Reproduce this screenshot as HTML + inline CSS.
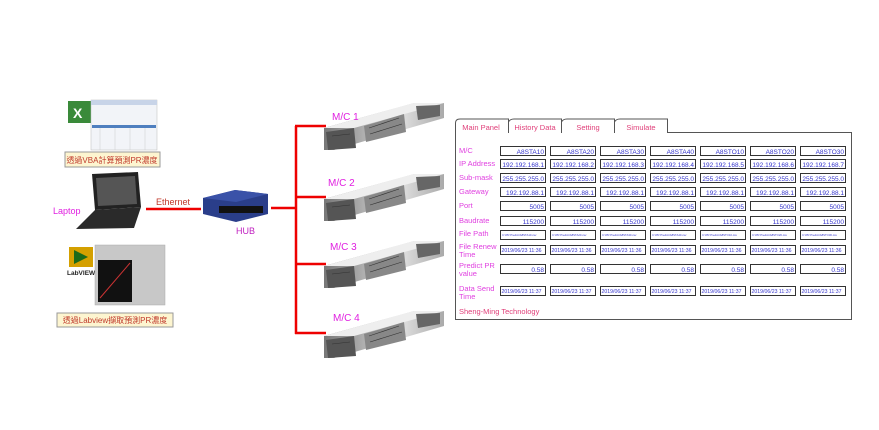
<!DOCTYPE html>
<html><head><meta charset="utf-8"><style>
body{margin:0;background:#fff;}
svg{display:block;font-family:"Liberation Sans","Noto Sans CJK TC",sans-serif;}
</style></head><body>
<svg width="879" height="430" viewBox="0 0 879 430" xmlns="http://www.w3.org/2000/svg">
<defs>
<linearGradient id="mg" x1="0" y1="0" x2="1" y2="0"><stop offset="0" stop-color="#777"/><stop offset="0.4" stop-color="#bbb"/><stop offset="0.6" stop-color="#e6e6e6"/><stop offset="1" stop-color="#aaa"/></linearGradient>
<g id="mach">
<polygon points="0,22 90,-3 120,-3 120,12 10,44 0,44" fill="url(#mg)"/>
<polygon points="0,22 90,-3 120,-3 30,22" fill="#eee"/>
<polygon points="2,26 30,22 32,42 4,44" fill="#555"/>
<polygon points="40,20 80,8 82,26 42,36" fill="#888"/>
<g stroke="#333" stroke-width="0.6"><line x1="45" y1="22" x2="75" y2="12"/><line x1="46" y1="28" x2="78" y2="18"/><line x1="8" y1="30" x2="26" y2="28"/></g>
<polygon points="92,0 116,-1 116,10 94,14" fill="#666"/>
</g>
</defs>
<!-- Excel -->
<rect x="68" y="101" width="24" height="22" fill="#3a8a3a"/>
<text x="73" y="118" font-size="14" font-weight="bold" fill="#fff">X</text>
<rect x="91" y="100" width="66" height="50" fill="#f2f4f8" stroke="#bbb" stroke-width="0.5"/>
<rect x="91" y="100" width="66" height="5" fill="#c8d4e8"/>
<rect x="92" y="125" width="64" height="3" fill="#4f7fbf"/>
<g stroke="#ccc" stroke-width="0.5"><line x1="100" y1="128" x2="100" y2="150"/><line x1="115" y1="128" x2="115" y2="150"/><line x1="130" y1="128" x2="130" y2="150"/><line x1="145" y1="128" x2="145" y2="150"/></g>
<rect x="65" y="152" width="95" height="15" fill="#fdf5d0" stroke="#999" stroke-width="1"/>
<text x="112" y="163" font-size="8" fill="#c0392b" text-anchor="middle">透過VBA計算預測PR濃度</text>
<!-- Laptop -->
<polygon points="92,174 138,172 141,207 95,210" fill="#222"/>
<polygon points="96,178 135,176 137,204 98,206" fill="#555"/>
<polygon points="95,210 141,207 134,228 76,229" fill="#2a2a2a"/>
<text x="53" y="214" font-size="9" fill="#e020e0">Laptop</text>
<!-- LabVIEW -->
<rect x="69" y="247" width="24" height="20" fill="#d4a000"/>
<polygon points="74,250 74,264 88,257" fill="#1a6a1a"/>
<text x="67" y="275" font-size="6.5" font-weight="bold" fill="#222">LabVIEW</text>
<rect x="95" y="245" width="70" height="60" fill="#c8c8c8" stroke="#aaa" stroke-width="0.5"/>
<rect x="98" y="260" width="34" height="42" fill="#111"/>
<line x1="100" y1="298" x2="130" y2="263" stroke="#c33" stroke-width="1"/>
<rect x="57" y="313" width="116" height="14" fill="#fdf5d0" stroke="#999" stroke-width="1"/>
<text x="115" y="323" font-size="8" fill="#c0392b" text-anchor="middle">透過Labview擷取預測PR濃度</text>
<!-- Ethernet -->
<line x1="146" y1="209" x2="201" y2="209" stroke="#e00" stroke-width="2.5"/>
<text x="156" y="205" font-size="9" fill="#c0392b">Ethernet</text>
<!-- HUB -->
<polygon points="203,198 235,190 268,194 268,214 236,222 203,214" fill="#2a3e8a"/>
<polygon points="203,198 235,190 268,194 236,202" fill="#3a52a8"/>
<rect x="219" y="206" width="44" height="7" fill="#111"/>
<text x="236" y="234" font-size="9" fill="#c020c0">HUB</text>
<!-- red network -->
<g stroke="#e00" stroke-width="2.5" fill="none">
<line x1="271" y1="208" x2="296" y2="208"/>
<line x1="296" y1="126" x2="296" y2="334"/>
<line x1="295" y1="126" x2="326" y2="126"/>
<line x1="295" y1="197" x2="326" y2="197"/>
<line x1="295" y1="264" x2="326" y2="264"/>
<line x1="295" y1="333" x2="326" y2="333"/>
</g>
<use href="#mach" x="324" y="106"/>
<use href="#mach" x="324" y="177"/>
<use href="#mach" x="324" y="244"/>
<use href="#mach" x="324" y="314"/>
<g font-size="10" fill="#e020e0">
<text x="332" y="120">M/C 1</text><text x="328" y="186">M/C 2</text><text x="330" y="250">M/C 3</text><text x="333" y="321">M/C 4</text>
</g>
<!-- Panel -->
<g stroke="#555" stroke-width="1" fill="#fff">
<rect x="455.5" y="132.5" width="396" height="187"/>
<path d="M455.5,133 V123 Q455.5,119 460,119 H508.5 V133"/>
<path d="M508.5,133 V122 Q510,119 514,119 H561.5 V133"/>
<path d="M561.5,133 V122 Q563,119 567,119 H614.5 V133"/>
<path d="M614.5,133 V122 Q616,119 620,119 H667.5 V133"/>
</g>
<line x1="456" y1="132.5" x2="508" y2="132.5" stroke="#fff" stroke-width="1.5"/>
<g font-size="7.5" fill="#e0407a" text-anchor="middle">
<text x="481" y="130">Main Panel</text><text x="535" y="130">History Data</text><text x="588" y="130">Setting</text><text x="641" y="130">Simulate</text>
</g>
<g font-size="7.5" fill="#e040e0">
<text x="459" y="153">M/C</text><text x="459" y="166">IP Address</text><text x="459" y="180">Sub-mask</text><text x="459" y="194">Gateway</text><text x="459" y="208">Port</text><text x="459" y="223">Baudrate</text><text x="459" y="236">File Path</text>
<text x="459" y="249">File Renew</text><text x="459" y="257">Time</text>
<text x="459" y="268">Predict PR</text><text x="459" y="276">value</text>
<text x="459" y="291">Data Send</text><text x="459" y="299">Time</text>
</g>
<text x="459" y="314" font-size="7.5" fill="#e0407a">Sheng-Ming Technology</text>
<g id="cols" stroke="#333" stroke-width="1" fill="#fff">
<rect x="500.5" y="146.5" width="45" height="9"/><rect x="550.5" y="146.5" width="45" height="9"/><rect x="600.5" y="146.5" width="45" height="9"/><rect x="650.5" y="146.5" width="45" height="9"/><rect x="700.5" y="146.5" width="45" height="9"/><rect x="750.5" y="146.5" width="45" height="9"/><rect x="800.5" y="146.5" width="45" height="9"/>
<rect x="500.5" y="159.5" width="45" height="9"/><rect x="550.5" y="159.5" width="45" height="9"/><rect x="600.5" y="159.5" width="45" height="9"/><rect x="650.5" y="159.5" width="45" height="9"/><rect x="700.5" y="159.5" width="45" height="9"/><rect x="750.5" y="159.5" width="45" height="9"/><rect x="800.5" y="159.5" width="45" height="9"/>
<rect x="500.5" y="173.5" width="45" height="9"/><rect x="550.5" y="173.5" width="45" height="9"/><rect x="600.5" y="173.5" width="45" height="9"/><rect x="650.5" y="173.5" width="45" height="9"/><rect x="700.5" y="173.5" width="45" height="9"/><rect x="750.5" y="173.5" width="45" height="9"/><rect x="800.5" y="173.5" width="45" height="9"/>
<rect x="500.5" y="187.5" width="45" height="9"/><rect x="550.5" y="187.5" width="45" height="9"/><rect x="600.5" y="187.5" width="45" height="9"/><rect x="650.5" y="187.5" width="45" height="9"/><rect x="700.5" y="187.5" width="45" height="9"/><rect x="750.5" y="187.5" width="45" height="9"/><rect x="800.5" y="187.5" width="45" height="9"/>
<rect x="500.5" y="201.5" width="45" height="9"/><rect x="550.5" y="201.5" width="45" height="9"/><rect x="600.5" y="201.5" width="45" height="9"/><rect x="650.5" y="201.5" width="45" height="9"/><rect x="700.5" y="201.5" width="45" height="9"/><rect x="750.5" y="201.5" width="45" height="9"/><rect x="800.5" y="201.5" width="45" height="9"/>
<rect x="500.5" y="216.5" width="45" height="9"/><rect x="550.5" y="216.5" width="45" height="9"/><rect x="600.5" y="216.5" width="45" height="9"/><rect x="650.5" y="216.5" width="45" height="9"/><rect x="700.5" y="216.5" width="45" height="9"/><rect x="750.5" y="216.5" width="45" height="9"/><rect x="800.5" y="216.5" width="45" height="9"/>
<rect x="500.5" y="230.5" width="45" height="9"/><rect x="550.5" y="230.5" width="45" height="9"/><rect x="600.5" y="230.5" width="45" height="9"/><rect x="650.5" y="230.5" width="45" height="9"/><rect x="700.5" y="230.5" width="45" height="9"/><rect x="750.5" y="230.5" width="45" height="9"/><rect x="800.5" y="230.5" width="45" height="9"/>
<rect x="500.5" y="245.5" width="45" height="9"/><rect x="550.5" y="245.5" width="45" height="9"/><rect x="600.5" y="245.5" width="45" height="9"/><rect x="650.5" y="245.5" width="45" height="9"/><rect x="700.5" y="245.5" width="45" height="9"/><rect x="750.5" y="245.5" width="45" height="9"/><rect x="800.5" y="245.5" width="45" height="9"/>
<rect x="500.5" y="264.5" width="45" height="9"/><rect x="550.5" y="264.5" width="45" height="9"/><rect x="600.5" y="264.5" width="45" height="9"/><rect x="650.5" y="264.5" width="45" height="9"/><rect x="700.5" y="264.5" width="45" height="9"/><rect x="750.5" y="264.5" width="45" height="9"/><rect x="800.5" y="264.5" width="45" height="9"/>
<rect x="500.5" y="286.5" width="45" height="9"/><rect x="550.5" y="286.5" width="45" height="9"/><rect x="600.5" y="286.5" width="45" height="9"/><rect x="650.5" y="286.5" width="45" height="9"/><rect x="700.5" y="286.5" width="45" height="9"/><rect x="750.5" y="286.5" width="45" height="9"/><rect x="800.5" y="286.5" width="45" height="9"/>
</g>
<g font-size="6.5" fill="#3333cc" text-anchor="end">
<text x="544" y="154">A8STA10</text><text x="594" y="154">A8STA20</text><text x="644" y="154">A8STA30</text><text x="694" y="154">A8STA40</text><text x="744" y="154">A8STO10</text><text x="794" y="154">A8STO20</text><text x="844" y="154">A8STO30</text>
<text x="544" y="167">192.192.168.1</text><text x="594" y="167">192.192.168.2</text><text x="644" y="167">192.192.168.3</text><text x="694" y="167">192.192.168.4</text><text x="744" y="167">192.192.168.5</text><text x="794" y="167">192.192.168.6</text><text x="844" y="167">192.192.168.7</text>
<text x="544" y="181">255.255.255.0</text><text x="594" y="181">255.255.255.0</text><text x="644" y="181">255.255.255.0</text><text x="694" y="181">255.255.255.0</text><text x="744" y="181">255.255.255.0</text><text x="794" y="181">255.255.255.0</text><text x="844" y="181">255.255.255.0</text>
<text x="544" y="195">192.192.88.1</text><text x="594" y="195">192.192.88.1</text><text x="644" y="195">192.192.88.1</text><text x="694" y="195">192.192.88.1</text><text x="744" y="195">192.192.88.1</text><text x="794" y="195">192.192.88.1</text><text x="844" y="195">192.192.88.1</text>
<text x="544" y="209">5005</text><text x="594" y="209">5005</text><text x="644" y="209">5005</text><text x="694" y="209">5005</text><text x="744" y="209">5005</text><text x="794" y="209">5005</text><text x="844" y="209">5005</text>
<text x="544" y="224">115200</text><text x="594" y="224">115200</text><text x="644" y="224">115200</text><text x="694" y="224">115200</text><text x="744" y="224">115200</text><text x="794" y="224">115200</text><text x="844" y="224">115200</text>
<text x="544" y="272">0.58</text><text x="594" y="272">0.58</text><text x="644" y="272">0.58</text><text x="694" y="272">0.58</text><text x="744" y="272">0.58</text><text x="794" y="272">0.58</text><text x="844" y="272">0.58</text>
</g>
<g font-size="2.8" fill="#3333cc">
<text x="502" y="236">C:\PR Predict\A8STA10.csv</text><text x="552" y="236">C:\PR Predict\A8STA20.csv</text><text x="602" y="236">C:\PR Predict\A8STA30.csv</text><text x="652" y="236">C:\PR Predict\A8STA40.csv</text><text x="702" y="236">C:\PR Predict\A8STO10.csv</text><text x="752" y="236">C:\PR Predict\A8STO20.csv</text><text x="802" y="236">C:\PR Predict\A8STO30.csv</text>
</g>
<g font-size="5.2" fill="#3333cc">
<text x="501.5" y="252">2019/06/23 11:36</text><text x="551.5" y="252">2019/06/23 11:36</text><text x="601.5" y="252">2019/06/23 11:36</text><text x="651.5" y="252">2019/06/23 11:36</text><text x="701.5" y="252">2019/06/23 11:36</text><text x="751.5" y="252">2019/06/23 11:36</text><text x="801.5" y="252">2019/06/23 11:36</text>
<text x="501.5" y="293">2019/06/23 11:37</text><text x="551.5" y="293">2019/06/23 11:37</text><text x="601.5" y="293">2019/06/23 11:37</text><text x="651.5" y="293">2019/06/23 11:37</text><text x="701.5" y="293">2019/06/23 11:37</text><text x="751.5" y="293">2019/06/23 11:37</text><text x="801.5" y="293">2019/06/23 11:37</text>
</g>
</svg>
</body></html>
